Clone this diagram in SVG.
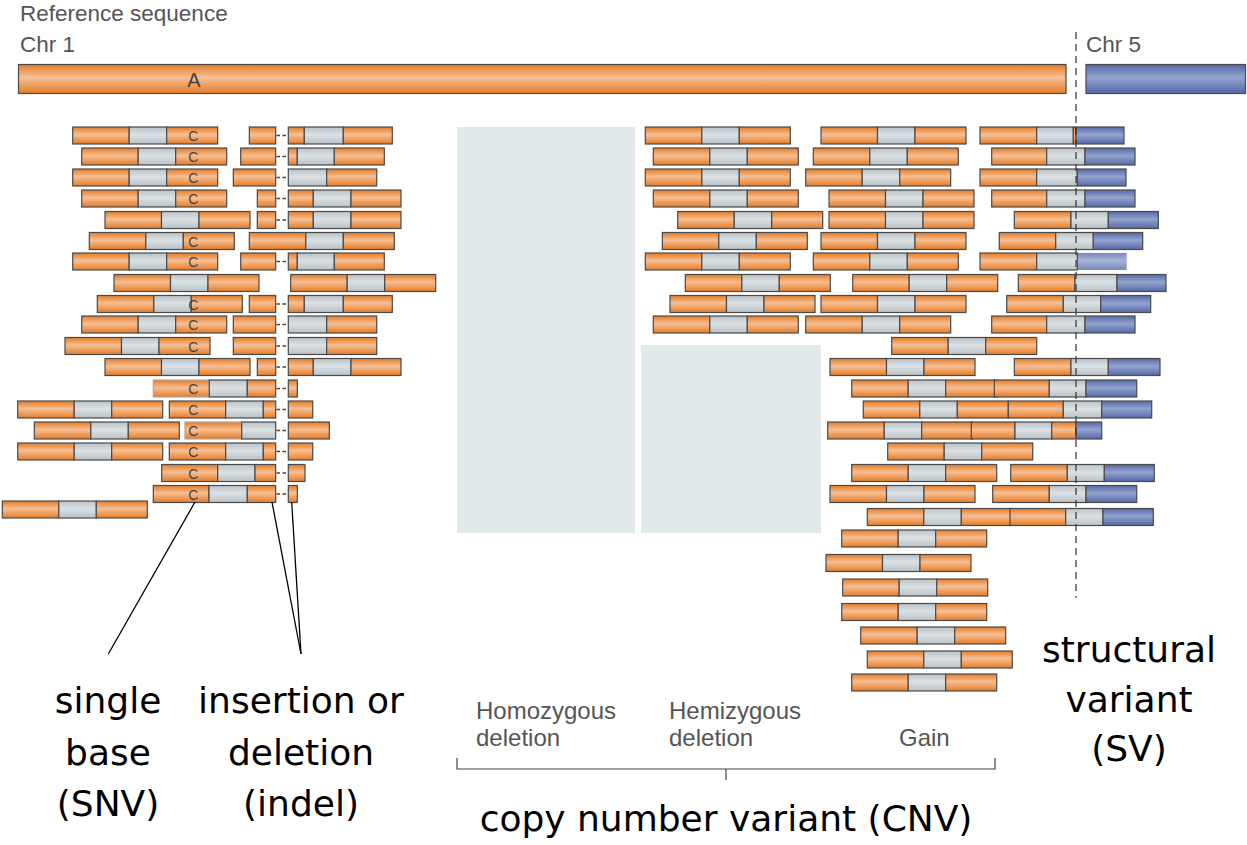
<svg xmlns="http://www.w3.org/2000/svg" xmlns:xlink="http://www.w3.org/1999/xlink" width="1247" height="845" viewBox="0 0 1247 845">
<style>
.o{fill:url(#go);stroke:#4a4a4a;stroke-width:1.2}
.g{fill:url(#gg);stroke:#4a4a4a;stroke-width:1.2}
.b{fill:url(#gb);stroke:#4a4a4a;stroke-width:1.2}
.fd{stroke:#a8a8a8}
.c{font-family:"Liberation Sans",Arial,sans-serif;font-size:14px;fill:#444;text-anchor:middle}
.dl{stroke:#444;stroke-width:1.3;stroke-dasharray:3.5 2.5;fill:none}
.hd{font-family:"Liberation Sans",Arial,sans-serif;font-size:22.5px;fill:#555}
.sub{font-family:"Liberation Sans",Arial,sans-serif;font-size:24px;fill:#555}
.lb{font-family:"DejaVu Sans",sans-serif;font-size:36px;fill:#000;text-anchor:middle}
.shade{fill:#e1e9eb}
.pl{stroke:#000;stroke-width:1.3;fill:none}
</style>
<defs>
<linearGradient id="go" x1="0" y1="0" x2="0" y2="1">
<stop offset="0" stop-color="#e47c27"/><stop offset="0.45" stop-color="#f7bf94"/><stop offset="1" stop-color="#e47c27"/>
</linearGradient>
<linearGradient id="gg" x1="0" y1="0" x2="0" y2="1">
<stop offset="0" stop-color="#b9c2c8"/><stop offset="0.45" stop-color="#dbe1e4"/><stop offset="1" stop-color="#b9c2c8"/>
</linearGradient>
<linearGradient id="gb" x1="0" y1="0" x2="0" y2="1">
<stop offset="0" stop-color="#5669a6"/><stop offset="0.45" stop-color="#93a3d0"/><stop offset="1" stop-color="#5669a6"/>
</linearGradient>
<g id="rd"><rect class="o" x="0" y="0" width="56.5" height="17"/><rect class="g" x="56.5" y="0" width="37.5" height="17"/><rect class="o" x="94" y="0" width="51" height="17"/></g>
</defs>
<rect width="1247" height="845" fill="#fff"/>

<g id="reference">
<text class="hd" x="20" y="20.5">Reference sequence</text>
<text class="hd" x="20" y="52">Chr 1</text>
<text class="hd" x="1086" y="52">Chr 5</text>
<rect class="o" x="18.5" y="64.5" width="1047.5" height="29"/>
<rect class="b" x="1086" y="64.5" width="159.5" height="29"/>
<text x="194" y="87" style="font-family:'Liberation Sans',Arial,sans-serif;font-size:20px;fill:#444;text-anchor:middle">A</text>
</g>

<g id="cnv-shading">
<rect class="shade" x="457" y="127" width="178" height="406"/>
<rect class="shade" x="641" y="345" width="180" height="188"/>
</g>

<g id="snv-reads">
<use href="#rd" x="72.7" y="127"/><text class="c" x="193.3" y="141">C</text>
<use href="#rd" x="81.7" y="148"/><text class="c" x="193.3" y="162">C</text>
<use href="#rd" x="72.7" y="169"/><text class="c" x="193.3" y="183">C</text>
<use href="#rd" x="81.7" y="190"/><text class="c" x="193.3" y="204">C</text>
<use href="#rd" x="105" y="211.5"/>
<use href="#rd" x="89.3" y="232.5"/><text class="c" x="193.3" y="246.5">C</text>
<use href="#rd" x="72.7" y="253"/><text class="c" x="193.3" y="267">C</text>
<use href="#rd" x="114" y="274.5"/>
<use href="#rd" x="97.3" y="295.5"/><text class="c" x="193.3" y="309.5">C</text>
<use href="#rd" x="81.7" y="316"/><text class="c" x="193.3" y="330">C</text>
<use href="#rd" x="65" y="337.5"/><text class="c" x="193.3" y="351.5">C</text>
<use href="#rd" x="105" y="358.5"/>
<use href="#rd" x="17.7" y="401"/>
<use href="#rd" x="34.3" y="422"/>
<use href="#rd" x="17.7" y="443"/>
<use href="#rd" x="2.3" y="501"/>
</g>

<g id="snv-indel-reads">
<rect class="o fd" x="153.3" y="380" width="56" height="17"/><rect class="g" x="209.3" y="380" width="38" height="17"/><rect class="o" x="247.3" y="380" width="28.4" height="17"/>
<line class="dl" x1="276.5" y1="388.5" x2="288" y2="388.5"/><rect class="o" x="288.3" y="380" width="9" height="17"/><text class="c" x="193.3" y="394">C</text>

<rect class="o" x="169.3" y="401" width="56.4" height="17"/><rect class="g" x="225.7" y="401" width="37.6" height="17"/><rect class="o" x="263.3" y="401" width="12.4" height="17"/>
<line class="dl" x1="276.5" y1="409.5" x2="288" y2="409.5"/><rect class="o" x="288.3" y="401" width="24.4" height="17"/><text class="c" x="193.3" y="415">C</text>

<rect class="o fd" x="185" y="422" width="56.7" height="17"/><rect class="g" x="241.7" y="422" width="34" height="17"/>
<line class="dl" x1="276.5" y1="430.5" x2="288" y2="430.5"/><rect class="o" x="288.3" y="422" width="41" height="17"/><text class="c" x="193.3" y="436">C</text>

<rect class="o" x="169.3" y="443" width="56.4" height="17"/><rect class="g" x="225.7" y="443" width="37.6" height="17"/><rect class="o" x="263.3" y="443" width="12.4" height="17"/>
<line class="dl" x1="276.5" y1="451.5" x2="288" y2="451.5"/><rect class="o" x="288.3" y="443" width="24.4" height="17"/><text class="c" x="193.3" y="457">C</text>

<rect class="o" x="161.7" y="464.5" width="56" height="17"/><rect class="g" x="217.7" y="464.5" width="37.3" height="17"/><rect class="o" x="255" y="464.5" width="20.7" height="17"/>
<line class="dl" x1="276.5" y1="473" x2="288" y2="473"/><rect class="o" x="288.3" y="464.5" width="16.7" height="17"/><text class="c" x="193.3" y="478.5">C</text>

<rect class="o" x="153.3" y="485.5" width="55.7" height="17"/><rect class="g" x="209" y="485.5" width="38.3" height="17"/><rect class="o" x="247.3" y="485.5" width="28.4" height="17"/>
<line class="dl" x1="276.5" y1="494" x2="288" y2="494"/><rect class="o" x="288.3" y="485.5" width="9" height="17"/><text class="c" x="193.3" y="499.5">C</text>
</g>

<g id="indel-reads">
<rect class="o" x="249.3" y="127" width="26.4" height="17"/><line class="dl" x1="276.5" y1="135.5" x2="288" y2="135.5"/><rect class="o" x="288.3" y="127" width="16" height="17"/><rect class="g" x="304.3" y="127" width="39" height="17"/><rect class="o" x="343.3" y="127" width="49" height="17"/>
<rect class="o" x="240.7" y="148" width="35" height="17"/><line class="dl" x1="276.5" y1="156.5" x2="288" y2="156.5"/><rect class="o" x="288.3" y="148" width="9" height="17"/><rect class="g" x="297.3" y="148" width="37" height="17"/><rect class="o" x="334.3" y="148" width="50" height="17"/>
<rect class="o" x="233.3" y="169" width="42.4" height="17"/><line class="dl" x1="276.5" y1="177.5" x2="288" y2="177.5"/><rect class="g" x="288.3" y="169" width="38.4" height="17"/><rect class="o" x="326.7" y="169" width="50" height="17"/>
<rect class="o" x="257.3" y="190" width="18.4" height="17"/><line class="dl" x1="276.5" y1="198.5" x2="288" y2="198.5"/><rect class="o" x="288.3" y="190" width="25" height="17"/><rect class="g" x="313.3" y="190" width="37.7" height="17"/><rect class="o" x="351" y="190" width="50" height="17"/>
<rect class="o" x="257.3" y="211.5" width="18.4" height="17"/><line class="dl" x1="276.5" y1="220" x2="288" y2="220"/><rect class="o" x="288.3" y="211.5" width="25" height="17"/><rect class="g" x="313.3" y="211.5" width="37.7" height="17"/><rect class="o" x="351" y="211.5" width="50" height="17"/>
<use href="#rd" x="249.3" y="232.5"/>
<rect class="o" x="240.7" y="253" width="35" height="17"/><line class="dl" x1="276.5" y1="261.5" x2="288" y2="261.5"/><rect class="o" x="288.3" y="253" width="9" height="17"/><rect class="g" x="297.3" y="253" width="37" height="17"/><rect class="o" x="334.3" y="253" width="50" height="17"/>
<use href="#rd" x="290.7" y="274.5"/>
<rect class="o" x="249.3" y="295.5" width="26.4" height="17"/><line class="dl" x1="276.5" y1="304" x2="288" y2="304"/><rect class="o" x="288.3" y="295.5" width="16" height="17"/><rect class="g" x="304.3" y="295.5" width="39" height="17"/><rect class="o" x="343.3" y="295.5" width="49" height="17"/>
<rect class="o" x="233.3" y="316" width="42.4" height="17"/><line class="dl" x1="276.5" y1="324.5" x2="288" y2="324.5"/><rect class="g" x="288.3" y="316" width="38.4" height="17"/><rect class="o" x="326.7" y="316" width="50" height="17"/>
<rect class="o" x="233.3" y="337.5" width="42.4" height="17"/><line class="dl" x1="276.5" y1="346" x2="288" y2="346"/><rect class="g" x="288.3" y="337.5" width="38.4" height="17"/><rect class="o" x="326.7" y="337.5" width="50" height="17"/>
<rect class="o" x="257.3" y="358.5" width="18.4" height="17"/><line class="dl" x1="276.5" y1="367" x2="288" y2="367"/><rect class="o" x="288.3" y="358.5" width="25" height="17"/><rect class="g" x="313.3" y="358.5" width="37.7" height="17"/><rect class="o" x="351" y="358.5" width="50" height="17"/>
</g>

<g id="cnv-reads">
<use href="#rd" x="645.3" y="127"/><use href="#rd" x="821" y="127"/>
<use href="#rd" x="653.3" y="148"/><use href="#rd" x="813.3" y="148"/>
<use href="#rd" x="645.3" y="169"/><use href="#rd" x="805.7" y="169"/>
<use href="#rd" x="653.3" y="190"/><use href="#rd" x="829" y="190"/>
<use href="#rd" x="677.7" y="211.5"/><use href="#rd" x="829" y="211.5"/>
<use href="#rd" x="662.3" y="232.5"/><use href="#rd" x="821" y="232.5"/>
<use href="#rd" x="645.3" y="253"/><use href="#rd" x="813.3" y="253"/>
<use href="#rd" x="685.3" y="274.5"/><use href="#rd" x="852.7" y="274.5"/>
<use href="#rd" x="670" y="295.5"/><use href="#rd" x="821" y="295.5"/>
<use href="#rd" x="653.3" y="316"/><use href="#rd" x="805.7" y="316"/>
<use href="#rd" x="891.7" y="337.5"/>
<use href="#rd" x="830" y="358.5"/>
<use href="#rd" x="851.7" y="380"/>
<use href="#rd" x="863.3" y="401"/>
<use href="#rd" x="827.7" y="422"/>
<use href="#rd" x="887.7" y="443"/>
<use href="#rd" x="851.7" y="464.5"/>
<use href="#rd" x="830" y="485.5"/>
<use href="#rd" x="867.3" y="508.5"/>
<use href="#rd" x="841.7" y="530"/>
<use href="#rd" x="826" y="554.5"/>
<use href="#rd" x="842.7" y="579"/>
<use href="#rd" x="841.7" y="603.5"/>
<use href="#rd" x="860.7" y="627"/>
<use href="#rd" x="867.3" y="651"/>
<use href="#rd" x="851.7" y="674"/>
</g>

<g id="sv-reads">
<rect class="o" x="980" y="127" width="56.7" height="17"/><rect class="g" x="1036.7" y="127" width="36.6" height="17"/><rect class="o" x="1073.3" y="127" width="2.7" height="17"/><rect class="b" x="1076" y="127" width="48" height="17"/>
<rect class="o" x="991.7" y="148" width="55" height="17"/><rect class="g" x="1046.7" y="148" width="38.3" height="17"/><rect class="b" x="1085" y="148" width="50" height="17"/>
<rect class="o" x="980" y="169" width="56.7" height="17"/><rect class="g" x="1036.7" y="169" width="40.6" height="17"/><rect class="b" x="1077.3" y="169" width="48.7" height="17"/>
<rect class="o" x="991.7" y="190" width="55" height="17"/><rect class="g" x="1046.7" y="190" width="38.3" height="17"/><rect class="b" x="1085" y="190" width="50" height="17"/>
<rect class="o" x="1014.3" y="211.5" width="56.7" height="17"/><rect class="g" x="1071" y="211.5" width="37.3" height="17"/><rect class="b" x="1108.3" y="211.5" width="50" height="17"/>
<rect class="o" x="999.3" y="232.5" width="56.4" height="17"/><rect class="g" x="1055.7" y="232.5" width="37.6" height="17"/><rect class="b" x="1093.3" y="232.5" width="49.4" height="17"/>
<rect class="b" x="1077.3" y="253" width="49.4" height="17" style="stroke:none;opacity:0.8"/><rect class="o" x="980" y="253" width="56.7" height="17"/><rect class="g" x="1036.7" y="253" width="40.6" height="17"/>
<rect class="o" x="1018.3" y="274.5" width="56.7" height="17"/><rect class="g" x="1075" y="274.5" width="42" height="17"/><rect class="b" x="1117" y="274.5" width="49" height="17"/>
<rect class="o" x="1006.7" y="295.5" width="56.6" height="17"/><rect class="g" x="1063.3" y="295.5" width="37.4" height="17"/><rect class="b" x="1100.7" y="295.5" width="50" height="17"/>
<rect class="o" x="991.7" y="316" width="55" height="17"/><rect class="g" x="1046.7" y="316" width="38.3" height="17"/><rect class="b" x="1085" y="316" width="50" height="17"/>
<rect class="o" x="1014.3" y="358.5" width="56.7" height="17"/><rect class="g" x="1071" y="358.5" width="37.3" height="17"/><rect class="b" x="1108.3" y="358.5" width="51.7" height="17"/>
<rect class="o" x="994.3" y="380" width="55" height="17"/><rect class="g" x="1049.3" y="380" width="36.7" height="17"/><rect class="b" x="1086" y="380" width="50.7" height="17"/>
<rect class="o" x="1008.3" y="401" width="55" height="17"/><rect class="g" x="1063.3" y="401" width="38.4" height="17"/><rect class="b" x="1101.7" y="401" width="50" height="17"/>
<rect class="o" x="971.3" y="422" width="43.7" height="17"/><rect class="g" x="1015" y="422" width="36.7" height="17"/><rect class="o" x="1051.7" y="422" width="24.3" height="17"/><rect class="b" x="1076" y="422" width="25.7" height="17"/>
<rect class="o" x="1010.7" y="464.5" width="56.6" height="17"/><rect class="g" x="1067.3" y="464.5" width="37" height="17"/><rect class="b" x="1104.3" y="464.5" width="50" height="17"/>
<rect class="o" x="992.7" y="485.5" width="56.6" height="17"/><rect class="g" x="1049.3" y="485.5" width="36.7" height="17"/><rect class="b" x="1086" y="485.5" width="50.7" height="17"/>
<rect class="o" x="1010" y="508.5" width="55.7" height="17"/><rect class="g" x="1065.7" y="508.5" width="37.3" height="17"/><rect class="b" x="1103" y="508.5" width="50.3" height="17"/>
</g>

<g id="breakpoint">
<line x1="1076" y1="32" x2="1076" y2="598" stroke="#333" stroke-width="1.2" stroke-dasharray="7 5"/>
</g>

<g id="connectors">
<line class="pl" x1="195" y1="502" x2="108.3" y2="654"/>
<line class="pl" x1="272" y1="502" x2="301" y2="654"/>
<line class="pl" x1="291.7" y1="502" x2="301" y2="654"/>
<path d="M457 758 V769 H995 V758 M726 769 V780" stroke="#444" stroke-width="1.2" fill="none"/>
</g>

<g id="cnv-labels">
<text class="sub" x="476" y="719">Homozygous</text>
<text class="sub" x="476" y="746">deletion</text>
<text class="sub" x="669" y="719">Hemizygous</text>
<text class="sub" x="669" y="746">deletion</text>
<text class="sub" x="899" y="746">Gain</text>
</g>

<g id="snv-label">
<text class="lb" x="108" y="713">single</text>
<text class="lb" x="108" y="765">base</text>
<text class="lb" x="108" y="816">(SNV)</text>
</g>
<g id="indel-label">
<text class="lb" x="301" y="713">insertion or</text>
<text class="lb" x="301" y="765">deletion</text>
<text class="lb" x="301" y="816">(indel)</text>
</g>
<g id="sv-label">
<text class="lb" x="1129" y="662">structural</text>
<text class="lb" x="1129" y="712">variant</text>
<text class="lb" x="1129" y="761">(SV)</text>
</g>
<g id="cnv-label">
<text class="lb" x="726" y="831">copy number variant (CNV)</text>
</g>
</svg>
